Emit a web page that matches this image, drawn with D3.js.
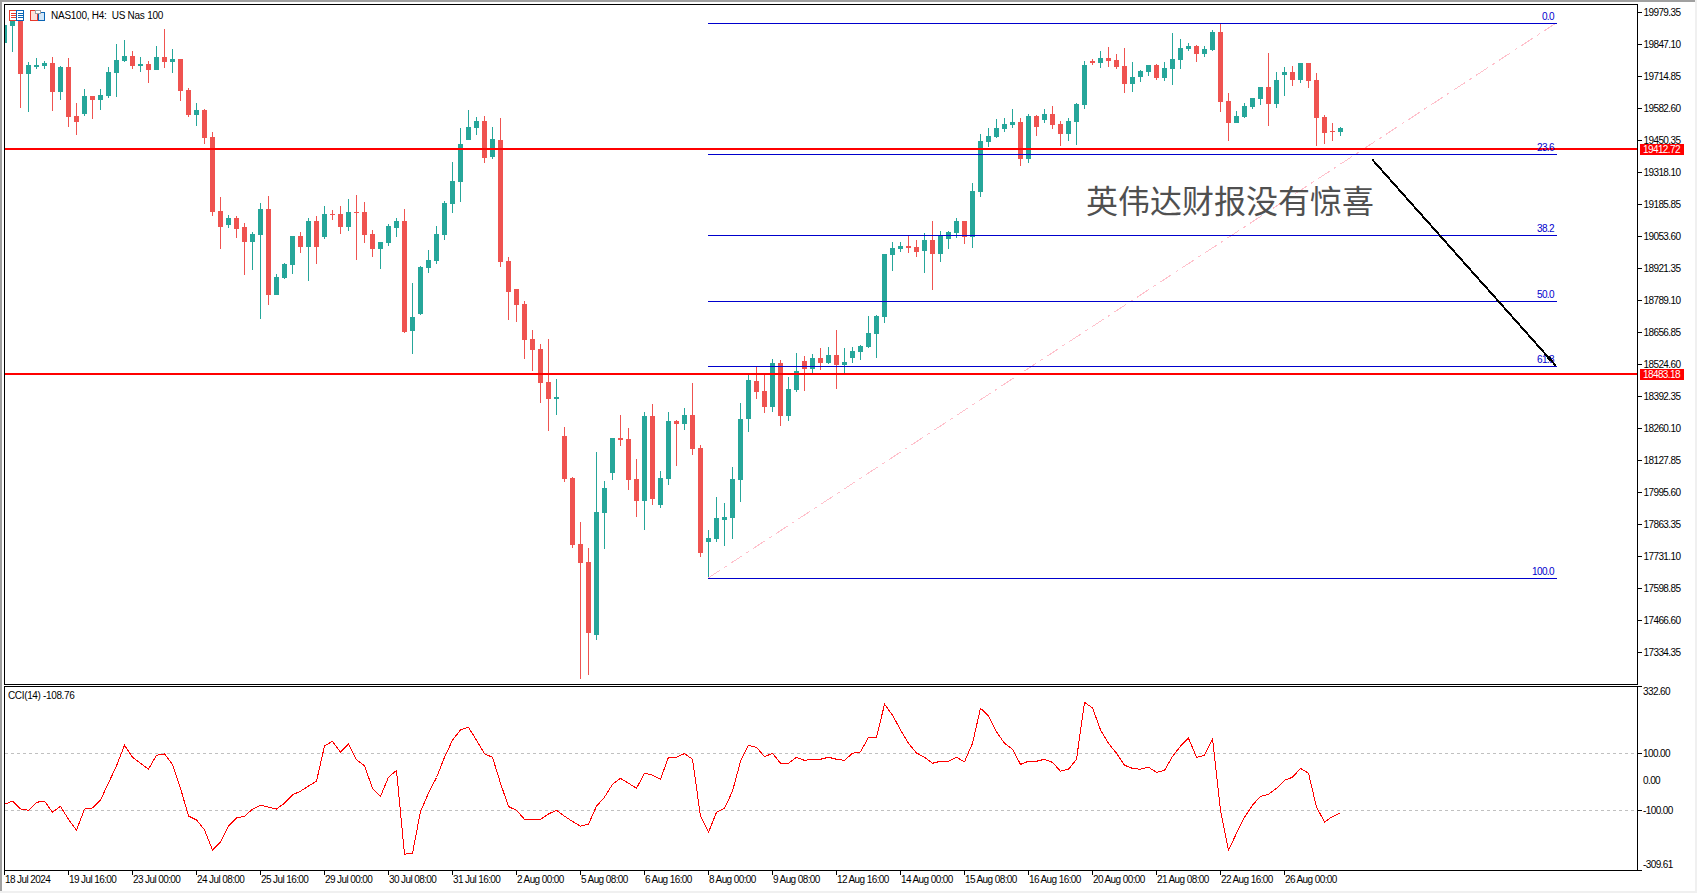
<!DOCTYPE html>
<html><head><meta charset="utf-8">
<script src="https://cdn.jsdelivr.net/npm/d3@7"></script>
<style>
html,body{margin:0;padding:0;background:#fff;overflow:hidden}
svg{display:block}
text{font-family:"Liberation Sans",Arial,sans-serif;font-size:10px;fill:#000;white-space:pre;letter-spacing:-0.6px}
</style></head><body><div id="chart"></div>
<script>
const symbolTitle = "NAS100, H4:  US Nas 100";
const cciTitle = "CCI(14) -108.76";
const annotation = "英伟达财报没有惊喜";

const opens = [
19853,19923,19948,19724,19753,19757,19770,19650,19753,19551,
19559,19634,19617,19634,19728,19778,19799,19757,19766,19741,
19794,19774,19786,19658,19555,19576,19464,19158,19100,19129,
19092,19030,19059,19166,18811,18881,18935,19055,19009,19117,
19050,19146,19146,19092,19154,19154,19063,19001,19026,19088,
19117,18662,18733,18923,18952,19059,19187,19278,19452,19501,
19530,19381,19452,18952,18836,18774,18629,18588,18451,18381,
18228,18054,17782,17707,17406,17910,18075,18220,18216,18050,
17960,18311,17943,18050,18290,18278,18315,18179,17790,17802,
17881,17889,18046,18298,18456,18414,18348,18530,18311,18418,
18538,18505,18550,18530,18563,18522,18550,18575,18596,18650,
18720,18976,19001,19013,19009,18993,19038,18980,19042,19067,
19117,19050,19237,19443,19464,19497,19514,19526,19373,19551,
19534,19559,19518,19476,19526,19596,19778,19770,19790,19782,
19757,19683,19712,19733,19762,19708,19745,19782,19828,19840,
19807,19824,19898,19613,19522,19547,19588,19621,19671,19600,
19720,19733,19700,19770,19700,19547,19489,19485];
const highs = [
19927,19943,19948,19774,19790,19778,19794,19757,19790,19604,
19662,19634,19662,19753,19848,19865,19819,19794,19778,19840,
19910,19828,19786,19666,19604,19580,19484,19216,19141,19137,
19109,19071,19191,19220,18898,18943,19055,19071,19129,19137,
19178,19162,19178,19208,19224,19195,19080,19030,19104,19129,
19166,18861,18931,18997,19096,19199,19361,19501,19576,19547,
19551,19505,19542,18968,18836,18786,18666,18609,18629,18464,
18265,18059,17873,17765,18162,18042,18220,18315,18261,18133,
18327,18360,18084,18327,18294,18344,18447,18191,17840,17976,
17951,18100,18365,18480,18513,18480,18546,18542,18472,18571,
18559,18567,18592,18596,18666,18592,18596,18604,18724,18728,
18980,19030,19030,19055,19038,19067,19117,19076,19076,19129,
19117,19274,19476,19501,19538,19542,19580,19542,19559,19555,
19580,19592,19530,19542,19604,19778,19786,19819,19836,19807,
19832,19774,19741,19762,19766,19774,19894,19869,19852,19844,
19840,19906,19931,19646,19571,19604,19625,19671,19811,19733,
19753,19757,19770,19770,19728,19555,19522,19505];
const lows = [
19853,19815,19584,19567,19745,19745,19571,19617,19505,19472,
19551,19538,19576,19625,19629,19774,19745,19733,19687,19741,
19749,19728,19613,19547,19510,19435,19137,19001,19088,19047,
18894,18914,18711,18770,18811,18877,18898,18985,18869,18939,
19042,19121,19063,19076,18956,19026,18968,18918,19013,19050,
18654,18567,18728,18902,18939,19038,19150,19195,19452,19472,
19357,19373,18927,18708,18699,18546,18497,18365,18249,18315,
18038,17765,17224,17241,17385,17761,18046,18187,18005,17894,
17840,17943,17931,18025,18104,18253,18150,17728,17641,17790,
17774,17802,17956,18245,18381,18323,18327,18270,18290,18410,
18414,18489,18501,18526,18422,18489,18530,18542,18592,18550,
18695,18910,18989,18985,18968,18902,18832,18947,19001,19047,
19022,19005,19216,19423,19460,19484,19501,19344,19357,19468,
19522,19497,19427,19447,19431,19580,19762,19749,19753,19745,
19646,19650,19691,19716,19700,19695,19679,19745,19819,19774,
19795,19819,19567,19447,19522,19542,19580,19596,19510,19584,
19634,19675,19687,19666,19427,19435,19447,19468];
const closes = [
19927,19943,19724,19762,19762,19770,19650,19753,19547,19526,
19634,19617,19638,19733,19782,19799,19757,19766,19741,19794,
19774,19786,19654,19555,19576,19460,19154,19092,19129,19084,
19030,19063,19166,18811,18885,18939,19055,19009,19117,19009,
19146,19141,19092,19154,19150,19059,19001,19030,19096,19117,
18658,18720,18927,18956,19063,19191,19282,19435,19505,19530,
19377,19456,18947,18823,18770,18625,18584,18447,18381,18389,
18050,17778,17703,17414,17914,18014,18220,18212,18046,17960,
18311,17968,18054,18290,18278,18315,18174,17745,17807,17889,
17893,18050,18298,18460,18410,18348,18530,18311,18422,18497,
18505,18550,18530,18563,18522,18534,18580,18600,18654,18724,
18980,19005,19013,19005,18989,19038,18980,19059,19071,19117,
19050,19241,19447,19468,19501,19518,19526,19373,19551,19505,
19559,19514,19476,19530,19600,19762,19770,19790,19778,19753,
19683,19712,19737,19762,19708,19749,19786,19832,19840,19807,
19828,19898,19609,19522,19551,19592,19625,19671,19600,19700,
19733,19700,19770,19695,19542,19480,19485,19501];
const cci = [
-79,-68,-95,-100,-72,-68,-107,-86,-132,-170,
-96,-92,-64,-4,56,128,86,65,44,93,
98,61,-23,-120,-134,-169,-240,-212,-156,-127,
-121,-96,-82,-89,-96,-75,-46,-33,-15,2,
126,142,104,132,77,56,-23,-51,16,40,
-254,-251,-104,-40,15,86,146,182,191,146,
98,86,-5,-87,-100,-132,-132,-132,-113,-100,
-121,-139,-156,-149,-86,-54,-9,12,-5,-23,
30,23,9,86,86,99,79,-121,-177,-107,
-93,-33,72,128,121,88,100,65,65,86,
75,79,79,86,79,75,100,105,156,156,
272,234,182,135,101,86,65,72,72,86,
70,135,258,231,175,135,114,61,72,72,
79,68,37,44,79,279,259,182,135,100,
58,47,44,51,33,40,89,125,153,86,
93,151,-100,-240,-181,-125,-82,-51,-44,-23,
5,16,47,30,-89,-141,-122,-108.76];

const priceTicks = ["19979.35","19847.10","19714.85","19582.60","19450.35","19318.10","19185.85","19053.60","18921.35","18789.10","18656.85","18524.60","18392.35","18260.10","18127.85","17995.60","17863.35","17731.10","17598.85","17466.60","17334.35"];
const cciTicks = ["332.60","100.00","0.00","-100.00","-309.61"];
const cciLevels = [100,-100];
const timeLabels = ["18 Jul 2024","19 Jul 16:00","23 Jul 00:00","24 Jul 08:00","25 Jul 16:00","29 Jul 00:00","30 Jul 08:00","31 Jul 16:00","2 Aug 00:00","5 Aug 08:00","6 Aug 16:00","8 Aug 00:00","9 Aug 08:00","12 Aug 16:00","14 Aug 00:00","15 Aug 08:00","16 Aug 16:00","20 Aug 00:00","21 Aug 08:00","22 Aug 16:00","26 Aug 00:00"];
const hLines = [19412.72,18483.18];
const fibHigh = 19935, fibLow = 17641;
const fibStart = 88, fibEnd = 194;
const fibLevels = [0,23.6,38.2,50,61.8,100];
const arrowBars = [171,194];
const arrowPrices = [19372,18518];

const W=1697,H=893,L=4,R=1637,T=4,B=684,CT=686,CB=870;
const x=d3.scaleLinear().domain([0,204]).range([4,1636]);
const y=d3.scaleLinear().domain([17203.4,20013.7]).range([B,T]);
const yc=d3.scaleLinear().domain([-309.61,332.6]).range([870,687]);
const px=v=>Math.round(v);
const GREEN="#26a69a",RED="#ef5350",BLUE="#0000cd";

const svg=d3.select("#chart").append("svg").attr("width",W).attr("height",H).attr("viewBox",`0 0 ${W} ${H}`);
svg.append("rect").attr("width",W).attr("height",H).attr("fill","#fff");
// window chrome
svg.append("rect").attr("width",W).attr("height",2).attr("fill","#a0a0a0");
svg.append("rect").attr("width",2).attr("height",H).attr("fill","#a0a0a0");
svg.append("rect").attr("x",1695).attr("width",2).attr("height",H).attr("fill","#f0f0f0");
svg.append("rect").attr("y",891).attr("width",W).attr("height",2).attr("fill","#f0f0f0");

const defs=svg.append("defs");
defs.append("clipPath").attr("id","mainClip").append("rect").attr("x",L+1).attr("y",T+1).attr("width",R-L-1).attr("height",B-T-1);
defs.append("clipPath").attr("id","cciClip").append("rect").attr("x",L+1).attr("y",CT+1).attr("width",R-L-1).attr("height",CB-CT-1);

const main=svg.append("g").attr("clip-path","url(#mainClip)").attr("shape-rendering","crispEdges");
const idx=d3.range(closes.length);
// wicks
main.append("g").selectAll("rect").data(idx).join("rect")
 .attr("x",i=>px(x(i))).attr("width",1)
 .attr("y",i=>px(y(highs[i]))).attr("height",i=>Math.max(1,px(y(lows[i]))-px(y(highs[i]))))
 .attr("fill",i=>closes[i]>=opens[i]?GREEN:RED);
// bodies
main.append("g").selectAll("rect").data(idx).join("rect")
 .attr("x",i=>px(x(i))-2).attr("width",5)
 .attr("y",i=>px(y(Math.max(opens[i],closes[i]))))
 .attr("height",i=>Math.max(1,px(y(Math.min(opens[i],closes[i])))-px(y(Math.max(opens[i],closes[i])))))
 .attr("fill",i=>closes[i]>=opens[i]?GREEN:RED);

// fib
const fibPrice=l=>fibHigh-(fibHigh-fibLow)*l/100;
main.append("line").attr("x1",x(fibStart)).attr("y1",y(fibLow)).attr("x2",x(fibEnd)).attr("y2",y(fibHigh))
 .attr("stroke","#ffc0cb").attr("stroke-width",1).attr("stroke-dasharray","14 5 3 5");
main.append("g").selectAll("rect").data(fibLevels).join("rect")
 .attr("x",x(fibStart)).attr("width",x(fibEnd)-x(fibStart)+1)
 .attr("y",d=>px(y(fibPrice(d)))).attr("height",1).attr("fill",BLUE);
svg.append("g").selectAll("text").data(fibLevels).join("text")
 .attr("x",x(fibEnd)-2).attr("y",d=>px(y(fibPrice(d)))-3)
 .attr("text-anchor","end").style("fill",BLUE).text(d=>d.toFixed(1));

// horizontal levels
main.append("g").selectAll("rect").data(hLines).join("rect")
 .attr("x",L+1).attr("width",R-L-1).attr("y",d=>px(y(d))-1).attr("height",2).attr("fill","#ff0000");

// annotation
svg.append("text").attr("x",1086).attr("y",213).text(annotation)
 .style("font-family",'"Noto Sans CJK SC"').style("font-size","32px").style("fill","#505050").style("letter-spacing","0");

// arrow
const arrowLine=d3.line().x(d=>x(d[0])).y(d=>y(d[1]));
const arrowPts=arrowBars.map((b,i)=>[b,arrowPrices[i]]);
svg.append("path").attr("d",arrowLine(arrowPts)).attr("fill","none").attr("stroke","#000").attr("stroke-width",2).attr("shape-rendering","crispEdges");
{
 const [x1,y1]=[x(arrowBars[0]),y(arrowPrices[0])],[x2,y2]=[x(arrowBars[1]),y(arrowPrices[1])];
 const a=Math.atan2(y2-y1,x2-x1),l=12,s=0.16;
 svg.append("path").attr("d",`M${x2},${y2}L${x2-l*Math.cos(a-s)},${y2-l*Math.sin(a-s)}L${x2-l*Math.cos(a+s)},${y2-l*Math.sin(a+s)}Z`).attr("fill","#000").attr("shape-rendering","crispEdges");
}

// CCI
const cg=svg.append("g").attr("clip-path","url(#cciClip)");
cg.append("g").selectAll("line").data(cciLevels).join("line")
 .attr("x1",L+1).attr("x2",R).attr("y1",d=>px(yc(d))+0.5).attr("y2",d=>px(yc(d))+0.5)
 .attr("stroke","#c0c0c0").attr("stroke-dasharray","3 3").attr("shape-rendering","crispEdges");
cg.append("path").attr("d",d3.line().x((d,i)=>x(i)+0.5).y(d=>yc(d))(cci))
 .attr("fill","none").attr("stroke","#ff0000").attr("stroke-width",1).attr("shape-rendering","crispEdges");

// frames
const frame=svg.append("g").attr("fill","none").attr("stroke","#000").attr("shape-rendering","crispEdges");
frame.append("rect").attr("x",L+.5).attr("y",T+.5).attr("width",R-L).attr("height",B-T);
frame.append("rect").attr("x",L+.5).attr("y",CT+.5).attr("width",R-L).attr("height",CB-CT);

// price axis
const yAxis=d3.axisRight(y).tickValues(priceTicks.map(Number)).tickSize(4).tickPadding(1).tickFormat(d=>d3.format(".2f")(d));
const ga=svg.append("g").attr("transform",`translate(${R+.5},0)`).call(yAxis);
ga.select(".domain").remove();
ga.selectAll("line").attr("stroke","#000").attr("shape-rendering","crispEdges");
ga.selectAll("text").attr("x",6).attr("dy",null).attr("y",3.5);

// cci axis
const cgAxis=svg.append("g").selectAll("g").data(cciTicks).join("g");
cgAxis.append("line").filter(d=>+d!==0)
 .attr("x1",R).attr("x2",R+5)
 .attr("y1",d=>+d===332.6?CT+.5:(+d===-309.61?CB+.5:px(yc(+d))+.5))
 .attr("y2",d=>+d===332.6?CT+.5:(+d===-309.61?CB+.5:px(yc(+d))+.5))
 .attr("stroke","#000").attr("shape-rendering","crispEdges");
cgAxis.append("text").attr("x",R+6)
 .attr("y",d=>+d===332.6?695:(+d===-309.61?868:(+d===0?784:px(yc(+d))+3.5)))
 .text(d=>d);

// time axis
const tg=svg.append("g").selectAll("g").data(timeLabels).join("g");
tg.append("line").attr("x1",(d,i)=>px(x(i*8))+.5).attr("x2",(d,i)=>px(x(i*8))+.5).attr("y1",CB).attr("y2",CB+5)
 .attr("stroke","#000").attr("shape-rendering","crispEdges");
tg.append("text").attr("x",(d,i)=>px(x(i*8))+1).attr("y",883).text(d=>d);

// red tags
const tag=svg.append("g").selectAll("g").data(hLines).join("g");
tag.append("rect").attr("x",1640).attr("width",44).attr("y",d=>px(y(d))-5).attr("height",11).attr("fill","#ff0000");
tag.append("text").attr("x",1643).attr("y",d=>px(y(d))+4).style("fill","#fff").text(d=>d.toFixed(2));

// header
svg.append("text").attr("x",51).attr("y",19).text(symbolTitle).style("letter-spacing","-0.25px");
svg.append("text").attr("x",8).attr("y",699).text(cciTitle).style("letter-spacing","-0.35px");
const ic=svg.append("g").attr("shape-rendering","crispEdges").attr("fill","none");
ic.append("rect").attr("x",9.5).attr("y",10.5).attr("width",7).attr("height",10).attr("stroke","#e8392b").attr("fill","#fff");
ic.append("rect").attr("x",16.5).attr("y",10.5).attr("width",7).attr("height",10).attr("stroke","#0a64b4").attr("fill","#fff");
[13,15,17].forEach(yy=>{
 ic.append("rect").attr("x",11).attr("y",yy).attr("width",5).attr("height",1).attr("fill","#e8392b");
 ic.append("rect").attr("x",18).attr("y",yy).attr("width",5).attr("height",1).attr("fill","#0a64b4");
});
ic.append("rect").attr("x",30.5).attr("y",10.5).attr("width",7).attr("height",10).attr("stroke","#e8392b").attr("fill","#fde0d8");
ic.append("rect").attr("x",38.5).attr("y",12.5).attr("width",6).attr("height",8).attr("stroke","#0a64b4").attr("fill","#d0e6f8");
ic.append("rect").attr("x",35.5).attr("y",10.5).attr("width",5).attr("height",3).attr("stroke","#a0a0a0").attr("fill","#fff");
</script></body></html>
